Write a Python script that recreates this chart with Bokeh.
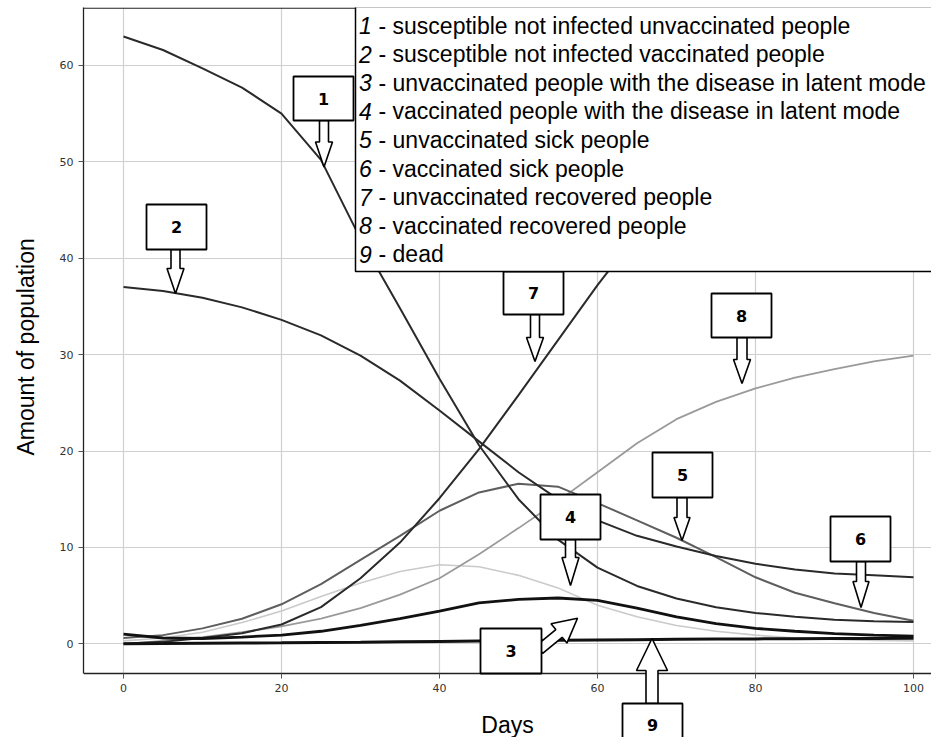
import math
from bokeh.plotting import figure
from bokeh.models import Range1d, SingleIntervalTicker, PolyAnnotation, Label, BoxAnnotation, Span
from bokeh.embed import file_html
from bokeh.resources import INLINE

# ---------------- data ----------------
days = [0, 5, 10, 15, 20, 25, 30, 35, 40, 45, 50, 55, 60, 65, 70, 75, 80, 85, 90, 95, 100]

s_unvacc = [63.0, 61.6, 59.7, 57.7, 55.0, 50.2, 42.0, 34.8, 27.5, 20.6, 15.0, 10.8, 7.9, 6.0, 4.7, 3.8, 3.2, 2.8, 2.5, 2.35, 2.25]
s_vacc = [37.0, 36.6, 35.9, 34.9, 33.6, 32.0, 29.9, 27.3, 24.2, 21.0, 17.8, 15.0, 12.8, 11.2, 10.1, 9.1, 8.3, 7.7, 7.3, 7.1, 6.9]
latent_unvacc = [1.0, 0.6, 0.55, 0.7, 0.9, 1.3, 1.9, 2.6, 3.4, 4.25, 4.6, 4.75, 4.5, 3.7, 2.8, 2.1, 1.6, 1.3, 1.05, 0.9, 0.8]
latent_vacc = [0.3, 0.6, 1.2, 2.2, 3.4, 4.9, 6.3, 7.5, 8.2, 8.0, 7.1, 5.8, 4.0, 2.8, 1.9, 1.3, 0.9, 0.6, 0.45, 0.35, 0.3]
sick_unvacc = [0.6, 0.9, 1.6, 2.6, 4.1, 6.2, 8.7, 11.2, 13.8, 15.7, 16.6, 16.3, 14.6, 12.8, 11.0, 9.0, 6.9, 5.3, 4.2, 3.2, 2.4]
r_unvacc = [0.0, 0.2, 0.6, 1.1, 2.0, 3.8, 6.8, 10.5, 15.1, 20.2, 25.8, 31.5, 37.2, 42.5, 46.5, 49.8, 52.3, 54.2, 55.6, 56.6, 57.3]
r_vacc = [0.0, 0.3, 0.7, 1.2, 1.8, 2.6, 3.7, 5.1, 6.8, 9.3, 12.0, 14.8, 17.8, 20.8, 23.3, 25.1, 26.5, 27.6, 28.5, 29.3, 29.9]
dead = [0.0, 0.02, 0.05, 0.08, 0.1, 0.13, 0.16, 0.2, 0.24, 0.28, 0.32, 0.36, 0.4, 0.43, 0.46, 0.49, 0.51, 0.53, 0.55, 0.56, 0.57]

legend_numbers = ["1", "2", "3", "4", "5", "6", "7", "8", "9"]
legend_texts = [
    "- susceptible not infected unvaccinated people",
    "- susceptible not infected vaccinated people",
    "- unvaccinated people with the disease in latent mode",
    "- vaccinated people with the disease in latent mode",
    "- unvaccinated sick people",
    "- vaccinated sick people",
    "- unvaccinated recovered people",
    "- vaccinated recovered people",
    "- dead",
]

x_ticks_interval = 20
y_ticks_interval = 10

# ---------------- figure geometry (canvas pixels) ----------------
W, H = 931, 737
FL, FT = 83.0, 7.0            # frame left / top
AXIS_PY = 673.0               # pixel row of the x axis line
PX_PER_X = 7.9
PX_PER_Y = 9.64
X_ZERO_PX = 123.0
Y_ZERO_PY = 643.3


def X(px):
    return (px - X_ZERO_PX) / PX_PER_X


def Y(py):
    return (Y_ZERO_PY - py) / PX_PER_Y


X0, X1 = X(FL), X(W)
Y0, Y1 = Y(H), Y(FT)
Y_AXIS = Y(AXIS_PY)

p = figure(width=W, height=H, x_range=Range1d(X0, X1), y_range=Range1d(Y0, Y1),
           output_backend="svg", toolbar_location=None,
           min_border_left=int(FL), min_border_right=0, min_border_top=int(FT), min_border_bottom=0)
p.background_fill_color = "white"
p.border_fill_color = "white"
p.outline_line_color = None

p.xaxis.ticker = SingleIntervalTicker(interval=x_ticks_interval)
p.yaxis.ticker = SingleIntervalTicker(interval=y_ticks_interval)
p.xaxis.fixed_location = Y_AXIS
p.yaxis.bounds = (Y_AXIS, Y1)
for ax in (p.xaxis, p.yaxis):
    ax.minor_tick_line_color = None
    ax.major_tick_in = 0
    ax.major_tick_out = 5
    ax.major_tick_line_color = "#555555"
    ax.axis_line_color = "#222222"
    ax.axis_line_width = 1.3
    ax.major_label_text_font = "DejaVu Sans"
    ax.major_label_text_font_size = "11px"
    ax.major_label_text_color = "#333333"
    ax.major_label_standoff = 5
    ax.axis_label_text_font = "Liberation Sans"
    ax.axis_label_text_font_size = "23px"
    ax.axis_label_text_font_style = "normal"
    ax.axis_label_text_color = "black"
p.xaxis.axis_label = "Days"
p.xaxis.axis_label_standoff = 17
# the frame runs to the bottom of the canvas; non-breaking spaces lift the label to the axis middle
p.yaxis.axis_label = "\u00a0" * 8 + "Amount of population"
p.yaxis.axis_label_standoff = 18
p.grid.grid_line_color = "#cfcfcf"
p.grid.grid_line_width = 1.2

# hide the vertical grid below the x axis, draw the top border
p.add_layout(BoxAnnotation(top=Y_AXIS, fill_color="white", fill_alpha=1.0, line_color=None, level="underlay"))
p.add_layout(Span(location=Y(FT + 0.7), dimension="width", line_color="#222222", line_width=1.3))

# ---------------- curves ----------------
p.line(days, latent_vacc, line_color="#cacaca", line_width=1.6)
p.line(days, r_vacc, line_color="#9a9a9a", line_width=1.8)
p.line(days, sick_unvacc, line_color="#5e5e5e", line_width=2)
p.line(days, s_unvacc, line_color="#2a2a2a", line_width=2)
p.line(days, s_vacc, line_color="#2a2a2a", line_width=2)
p.line(days, r_unvacc, line_color="#2a2a2a", line_width=2)
p.line(days, latent_unvacc, line_color="#111111", line_width=2.8)
p.line(days, dead, line_color="#111111", line_width=3)


# ---------------- annotations ----------------
def poly(pts, lw=1.8):
    p.add_layout(PolyAnnotation(xs=[X(a) for a, b in pts], ys=[Y(b) for a, b in pts],
                                fill_color="white", fill_alpha=1.0,
                                line_color="black", line_alpha=1.0, line_width=lw))


def block_arrow(sx, sy, tx, ty, sw, hw, hl):
    dx, dy = tx - sx, ty - sy
    L = math.hypot(dx, dy)
    ux, uy = dx / L, dy / L
    nx, ny = -uy, ux
    bx, by = tx - ux * hl, ty - uy * hl
    pts = [(sx + nx * sw / 2, sy + ny * sw / 2), (bx + nx * sw / 2, by + ny * sw / 2),
           (bx + nx * hw / 2, by + ny * hw / 2), (tx, ty),
           (bx - nx * hw / 2, by - ny * hw / 2), (bx - nx * sw / 2, by - ny * sw / 2),
           (sx - nx * sw / 2, sy - ny * sw / 2)]
    poly(pts, 1.6)


def callout(num, x0, y0, x1, y1, arrow, ty=None):
    block_arrow(*arrow)
    poly([(x0, y0), (x1, y0), (x1, y1), (x0, y1)], 1.8)
    cy = (y0 + y1) / 2 if ty is None else ty
    p.add_layout(Label(x=X((x0 + x1) / 2), y=Y(cy), text=num,
                       text_align="center", text_baseline="middle",
                       text_font="DejaVu Sans", text_font_size="16px",
                       text_font_style="bold", text_color="black"))


callout("1", 293, 76, 353, 120, (323.5, 120, 323.5, 166.5, 9, 17, 25))
callout("2", 146, 204, 206, 249, (175, 249, 175, 293, 9, 17, 25))
callout("7", 503, 271, 563, 314, (534.5, 314, 534.5, 361, 9, 17, 24))
callout("8", 711, 293, 771, 337, (741.5, 337, 741.5, 383, 10, 17, 24))
callout("5", 652, 452, 712, 497, (681.5, 497, 681.5, 540, 10, 16, 23))
callout("4", 540, 494, 600, 539, (570, 539, 570, 585, 10, 17, 28))
callout("6", 830, 516, 890, 561, (860.5, 561, 860.5, 607, 9, 16, 26))
callout("3", 480, 628, 541, 673, (539, 649, 577, 617.7, 10, 25, 24))
callout("9", 622, 703, 682, 757, (651.5, 703, 651.5, 638, 12, 31, 32), ty=724)

# legend box
poly([(355, 6), (990, 6), (990, 271), (355, 271)], 1.5)
for i, (n, t) in enumerate(zip(legend_numbers, legend_texts)):
    yb = 25.0 + 28.6 * i
    p.add_layout(Label(x=X(358.5), y=Y(yb), text=n, text_align="left", text_baseline="alphabetic",
                       text_font="Liberation Sans", text_font_size="23px", text_font_style="italic",
                       text_color="black"))
    p.add_layout(Label(x=X(378), y=Y(yb), text=t, text_align="left", text_baseline="alphabetic",
                       text_font="Liberation Sans", text_font_size="23px",
                       text_color="black"))

open("out.html", "w").write(file_html(p, INLINE))
